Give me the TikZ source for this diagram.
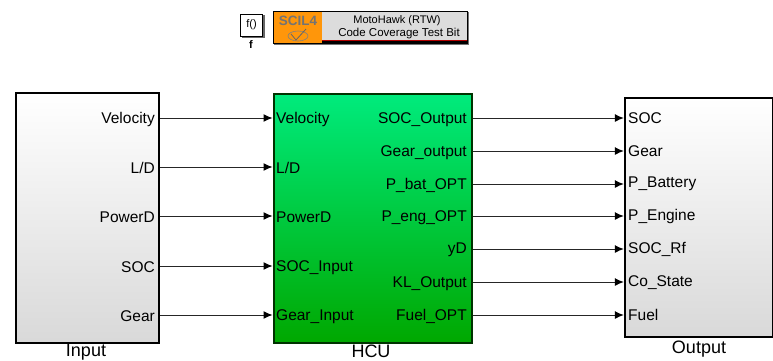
\documentclass[tikz,border=0pt]{standalone}
\usepackage{fontspec}
\setmainfont{Liberation Sans}
\usetikzlibrary{arrows.meta}
\definecolor{hcutop}{RGB}{0,235,125}
\definecolor{hcubot}{RGB}{0,168,0}
\definecolor{scilgrey}{RGB}{220,220,220}
\definecolor{scilorange}{RGB}{255,150,10}
\tikzset{
  x=1pt,y=-1pt,
  subsys/.style={draw=black,line width=2pt,inner sep=0pt,anchor=north west},
  whitebox/.style={subsys,top color=white,bottom color=black!15},
  greenbox/.style={subsys,draw=black!80!green,top color=hcutop,bottom color=hcubot},
  portl/.style={anchor=west,inner sep=0pt,font=\fontsize{15.5}{17}\selectfont},
  portr/.style={anchor=east,inner sep=0pt,font=\fontsize{15.5}{17}\selectfont},
  caption/.style={inner sep=0pt,font=\fontsize{18}{20}\selectfont},
  wire/.style={draw=black!85,line width=1pt,-{Latex[length=9pt,width=8pt,black]}},
}
\begin{document}
\begin{tikzpicture}
\useasboundingbox (0,0) rectangle (773,360);
% top blocks
\fill[black!60] (242,15) rectangle (264.5,37.5);
\node[draw=black,line width=1pt,fill=white,minimum width=22pt,minimum height=22pt,inner sep=0pt,anchor=north west,font=\fontsize{11}{13}\selectfont] (fn) at (240,13.5) {f()};
\node[inner sep=0pt,font=\bfseries\fontsize{11}{13}\selectfont] (fnlabel) at (251,44.5) {f};
\fill[black!55] (274,12) rectangle (468.5,44.5);
\node[draw=black,line width=1pt,fill=scilgrey,minimum width=194pt,minimum height=32pt,inner sep=0pt,anchor=north west] (cov) at (273,11) {};
\fill[scilorange] (274,11.5) rectangle (322,42.5);
\draw[red!70!black,line width=1pt] (322,40.5) -- (466.5,40.5);
\draw[black,line width=1.3pt] (322,42) -- (467,42);
\node[inner sep=0pt,text=black!55,font=\bfseries\fontsize{13.5}{15}\selectfont] (scil) at (298,20.5) {SCIL4};
\draw[black!50,line width=0.6pt] (298,36) ellipse (10pt and 5pt);
\draw[black!60,line width=0.8pt] (291,34) -- (296,40) -- (306,29);
\node[inner sep=0pt,font=\fontsize{11}{13}\selectfont] (cov1) at (397,20.5) {MotoHawk (RTW)};
\node[inner sep=0pt,font=\fontsize{11.5}{13}\selectfont] (cov2) at (399,33.5) {Code Coverage Test Bit};
% main blocks
\fill[black!35] (274,95) rectangle (472.5,343);
\node[whitebox,minimum width=143.5pt,minimum height=250pt] (input) at (14.5,91.5) {};
\node[greenbox,minimum width=198.5pt,minimum height=249pt] (hcu) at (272.5,92.5) {};
\node[whitebox,minimum width=148.5pt,minimum height=239.5pt] (output) at (623.8,96.5) {};
\node[caption] (inputcap) at (86,352.5) {Input};
\node[caption] (hcucap) at (371,351) {HCU};
\node[caption] (outputcap) at (699,349.5) {Output};
% input ports
\foreach \n/\t/\y in {iv/Velocity/118,il/L\slash D/167,ip/PowerD/216,is/SOC/266,ig/Gear/315}{
  \coordinate (\n a) at (input.north east |- 0,\y);
  \node[portr] (\n) at (155,\y+1.2) {\t};
}
\foreach \n/\t/\y in {hv/Velocity/118,hl/L\slash D/167,hp/PowerD/216,hs/SOC\_Input/266,hg/Gear\_Input/315}{
  \coordinate (\n a) at (hcu.north west |- 0,\y);
  \node[portl] (\n) at (276,\y+1.2) {\t};
}
\foreach \n/\t/\y in {o1/SOC\_Output/118,o2/Gear\_output/151,o3/P\_bat\_OPT/184,o4/P\_eng\_OPT/216,o5/yD/249,o6/KL\_Output/282,o7/Fuel\_OPT/315}{
  \coordinate (\n a) at (hcu.north east |- 0,\y);
  \node[portr] (\n) at (467,\y+1.2) {\t};
}
\foreach \n/\t/\y in {r1/SOC/118,r2/Gear/151,r3/P\_Battery/184,r4/P\_Engine/216,r5/SOC\_Rf/249,r6/Co\_State/282,r7/Fuel/315}{
  \coordinate (\n a) at (output.north west |- 0,\y);
  \node[portl] (\n) at (628,\y+0.2) {\t};
}
\foreach \a/\b in {iv/hv,il/hl,ip/hp,is/hs,ig/hg,o1/r1,o2/r2,o3/r3,o4/r4,o5/r5,o6/r6,o7/r7}{
  \draw[wire] (\a a) -- (\b a);
}
\end{tikzpicture}
\end{document}
